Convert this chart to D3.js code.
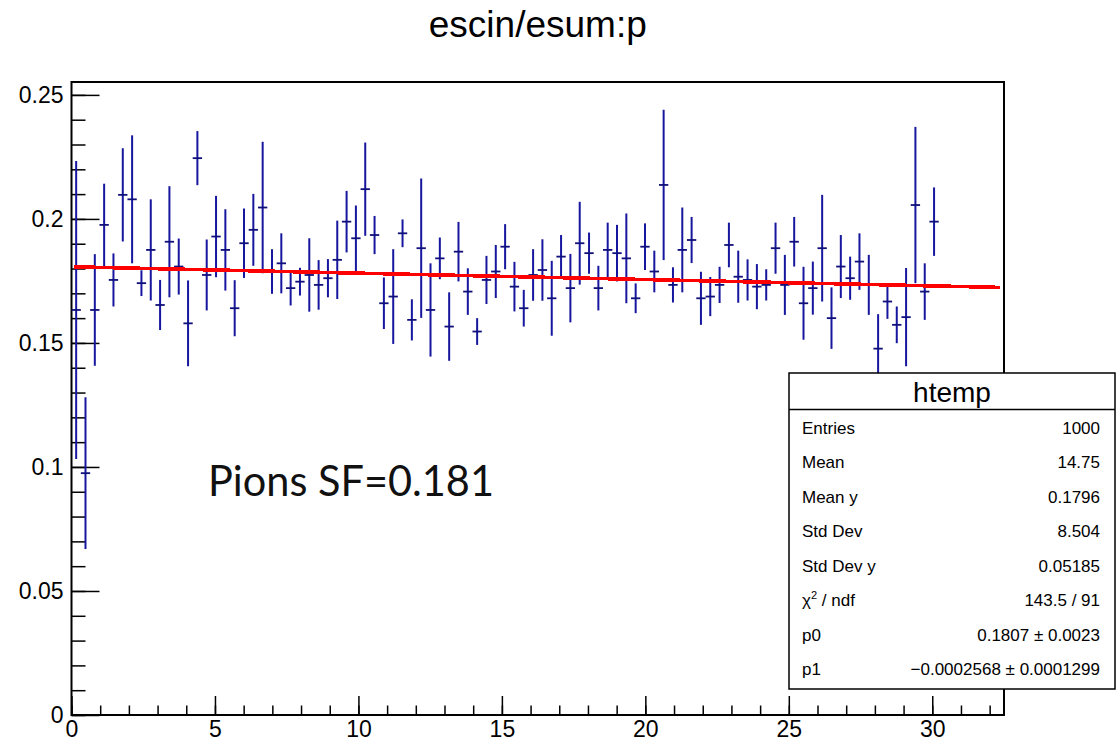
<!DOCTYPE html>
<html><head><meta charset="utf-8">
<script src="https://cdn.jsdelivr.net/npm/d3@7"></script>
<style>
body{margin:0;background:#fff}
svg{display:block}
text{font-family:"Liberation Sans",Arial,Helvetica,sans-serif}
</style></head>
<body>
<script>
// ---- data ----
const histTitle = "escin/esum:p";
const xLow = 0, xHigh = 32.5, nBins = 100;
const yMax = 0.2552;
const binMeans = [
0.1633,0.0975,0.1633,0.1976,0.1754,0.2097,0.2079,0.1741,0.1875,0.1653,
0.1908,0.1808,0.1579,0.2245,0.1774,0.1929,0.1875,0.1640,0.1902,0.1956,
0.2046,0.1788,0.1821,0.1721,0.1747,0.1774,0.1734,0.1761,0.1835,0.1989,
0.1922,0.2120,0.1935,0.1660,0.1687,0.1942,0.1593,0.1882,0.1633,0.1841,
0.1566,0.1868,0.1707,0.1546,0.1754,0.1788,0.1888,0.1727,0.1640,0.1774,
0.1794,0.1680,0.1848,0.1721,0.1902,0.1862,0.1721,0.1875,0.1862,0.1841,
0.1680,0.1888,0.1788,0.2137,0.1734,0.1875,0.1915,0.1680,0.1687,0.1734,
0.1895,0.1767,0.1754,0.1727,0.1734,0.1882,0.1734,0.1908,0.1660,0.1721,
0.1882,0.1600,0.1808,0.1761,0.1828,0.1734,0.1477,0.1667,0.1573,0.1604,
0.2056,0.1707,0.1989];
const binErrors = [
0.0601,0.0306,0.0225,0.0166,0.0107,0.0188,0.0258,0.0052,0.0204,0.0101,
0.0224,0.0113,0.0173,0.0109,0.0143,0.0164,0.0164,0.0113,0.0140,0.0145,
0.0265,0.0090,0.0121,0.0070,0.0056,0.0148,0.0100,0.0077,0.0158,0.0124,
0.0132,0.0188,0.0077,0.0104,0.0191,0.0056,0.0083,0.0281,0.0188,0.0084,
0.0138,0.0120,0.0094,0.0054,0.0097,0.0107,0.0091,0.0100,0.0074,0.0104,
0.0124,0.0151,0.0087,0.0138,0.0167,0.0083,0.0090,0.0110,0.0114,0.0181,
0.0060,0.0094,0.0084,0.0303,0.0071,0.0171,0.0093,0.0107,0.0079,0.0073,
0.0090,0.0105,0.0083,0.0091,0.0063,0.0103,0.0121,0.0100,0.0147,0.0107,
0.0215,0.0124,0.0127,0.0087,0.0114,0.0121,0.0139,0.0070,0.0074,0.0198,
0.0315,0.0114,0.0138];
const fitP0 = 0.1807, fitP1 = -0.0002568;
const fitRange = [0.1, 32.35];
const xMajorTicks = [0,5,10,15,20,25,30];
const xTickLabels = ["0","5","10","15","20","25","30"];
const yMajorTicks = [0,0.05,0.1,0.15,0.2,0.25];
const yTickLabels = ["0","0.05","0.1","0.15","0.2","0.25"];
const statsTitle = "htemp";
const statsNames = ["Entries","Mean","Mean y","Std Dev","Std Dev y","CHI","p0","p1"];
const statsValues = ["1000","14.75","0.1796","8.504","0.05185","143.5 / 91","0.1807 \u00b1 0.0023","\u22120.0002568 \u00b1 0.0001299"];
const annotation = "Pions SF=0.181";

// ---- layout ----
const W = 1117, H = 744;
const frame = {left:71.5, right:1004, top:82, bottom:715};
const svg = d3.select("body").append("svg").attr("width",W).attr("height",H);
const x = d3.scaleLinear().domain([xLow,xHigh]).range([frame.left,frame.right]);
const y = d3.scaleLinear().domain([0,yMax]).range([frame.bottom,frame.top]);
const bw = (xHigh-xLow)/nBins;

// title
svg.append("text").attr("x",(frame.left+frame.right)/2).attr("y",37)
  .attr("text-anchor","middle").attr("font-size",37).attr("fill","#000").text(histTitle);

// frame
svg.append("rect").attr("x",frame.left).attr("y",frame.top)
  .attr("width",frame.right-frame.left).attr("height",frame.bottom-frame.top)
  .attr("fill","none").attr("stroke","#000").attr("stroke-width",2);

function styleAxis(g){
  g.select(".domain").remove();
  g.selectAll(".tick line").attr("stroke","#000").attr("stroke-width",1.5);
  g.selectAll("text").attr("font-size",23).attr("fill","#000");
}
// x axis
svg.append("g").attr("transform",`translate(0,${frame.bottom})`)
  .call(d3.axisBottom(x).tickValues(d3.range(0,33,1)).tickSize(-9.5).tickFormat(""))
  .call(styleAxis);
svg.append("g").attr("transform",`translate(0,${frame.bottom})`)
  .call(d3.axisBottom(x).tickValues(xMajorTicks).tickSize(-19).tickPadding(6)
    .tickFormat((d,i)=>xTickLabels[i]))
  .call(styleAxis);
// y axis
svg.append("g").attr("transform",`translate(${frame.left},0)`)
  .call(d3.axisLeft(y).tickValues(d3.range(0,26,1).map(k=>k/100)).tickSize(-14).tickFormat(""))
  .call(styleAxis);
svg.append("g").attr("transform",`translate(${frame.left},0)`)
  .call(d3.axisLeft(y).tickValues(yMajorTicks).tickSize(-28).tickPadding(8)
    .tickFormat((d,i)=>yTickLabels[i]))
  .call(styleAxis);

// error bars
const pts = binMeans.map((m,i)=>({lo:xLow+i*bw, hi:xLow+(i+1)*bw, c:xLow+(i+0.5)*bw, m, e:binErrors[i]}));
const bars = svg.append("g").attr("stroke","#16169e").attr("stroke-width",2);
bars.selectAll("line.v").data(pts).join("line").attr("class","v")
  .attr("x1",d=>x(d.c)).attr("x2",d=>x(d.c))
  .attr("y1",d=>y(d.m+d.e)).attr("y2",d=>y(d.m-d.e));
bars.selectAll("line.h").data(pts).join("line").attr("class","h")
  .attr("x1",d=>x(d.lo)).attr("x2",d=>x(d.hi))
  .attr("y1",d=>y(d.m)).attr("y2",d=>y(d.m)).attr("stroke","#10107a").attr("stroke-width",1.8);

// fit line
const fitPts = d3.range(0,101).map(k=>fitRange[0]+(fitRange[1]-fitRange[0])*k/100);
svg.append("path").datum(fitPts)
  .attr("d",d3.line().x(d=>x(d)).y(d=>y(fitP0+fitP1*d)))
  .attr("fill","none").attr("stroke","#ff0000").attr("stroke-width",3.6)
  .attr("shape-rendering","crispEdges");

// annotation
svg.append("text").attr("x",208).attr("y",496)
  .style("font-family","Lato, 'Open Sans', sans-serif").attr("font-size",42)
  .attr("fill","#111").attr("textLength",286).attr("lengthAdjust","spacingAndGlyphs")
  .text(annotation);

// stats box
const box = {x:789, y:373, w:326, h:316};
svg.append("rect").attr("x",box.x).attr("y",box.y).attr("width",box.w).attr("height",box.h)
  .attr("fill","#fff").attr("stroke","#000").attr("stroke-width",1.5);
svg.append("line").attr("x1",box.x).attr("x2",box.x+box.w).attr("y1",409.5).attr("y2",409.5)
  .attr("stroke","#000").attr("stroke-width",1.5);
svg.append("text").attr("x",box.x+box.w/2).attr("y",402).attr("text-anchor","middle")
  .attr("font-size",28).attr("fill","#000").text(statsTitle);
statsNames.forEach((n,i)=>{
  const yy = 433.5 + i*34.5;
  const t = svg.append("text").attr("x",802).attr("y",yy).attr("font-size",17).attr("fill","#000");
  if(n==="CHI"){
    t.append("tspan").text("\u03c7");
    t.append("tspan").attr("font-size",11).attr("dy",-7).text("2");
    t.append("tspan").attr("dy",7).text(" / ndf");
  } else t.text(n);
  svg.append("text").attr("x",1100).attr("y",yy).attr("text-anchor","end")
    .attr("font-size",17).attr("fill","#000").text(statsValues[i]);
});
</script>
</body></html>
